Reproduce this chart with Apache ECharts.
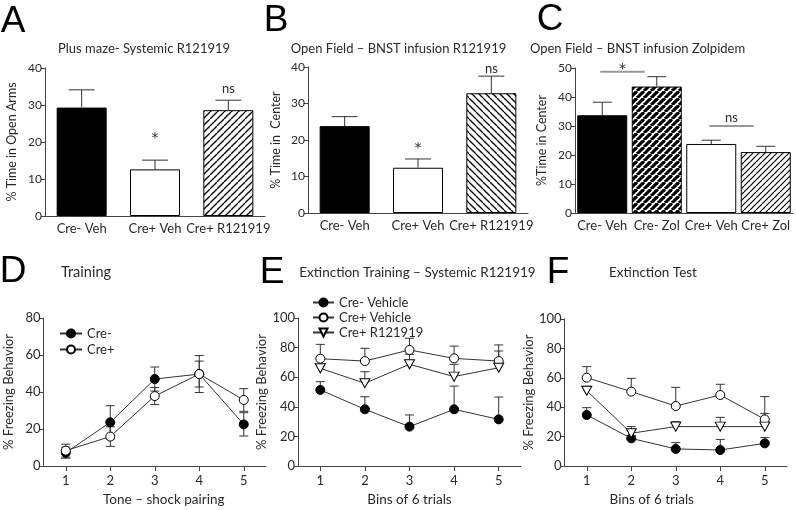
<!DOCTYPE html>
<html><head><meta charset="utf-8">
<script src="https://cdn.jsdelivr.net/npm/echarts@6/dist/echarts.min.js"></script>
<style>html,body{margin:0;padding:0;background:#fff}#c{width:796px;height:510px}</style>
</head><body><div id="c"></div>
<script>
// ---------- data ----------
const catsA = ['Cre- Veh', 'Cre+ Veh', 'Cre+ R121919'];
const valsA = [29.3, 12.6, 28.6];
const errA  = [4.8, 2.5, 2.7];
const catsB = ['Cre- Veh', 'Cre+ Veh', 'Cre+ R121919'];
const valsB = [23.8, 12.4, 32.8];
const errB  = [2.6, 2.4, 4.7];
const catsC = ['Cre- Veh', 'Cre- Zol', 'Cre+ Veh', 'Cre+ Zol'];
const valsC = [33.7, 43.6, 23.8, 21.0];
const errC  = [4.5, 3.4, 1.3, 2.0];
const sigA = [[1, 21.0, '*'], [2, 34.3, 'ns']];
const sigB = [[1, 17.8, '*'], [2, 39.6, 'ns']];
const bracketsC = [[0, 1, 48.7, 49.6, '*'], [2, 3, 30.0, 32.8, 'ns']];

const bins = [1, 2, 3, 4, 5];
// D: Training
const dCreMinus = [7.2, 23.6, 47.0, 49.7, 22.5];
const dCreMinusSem = [3.0, 9.0, 6.5, 7.0, 6.3];
const dCrePlus = [8.3, 15.9, 37.8, 49.7, 35.7];
const dCrePlusSem = [3.5, 5.3, 4.6, 10.0, 6.1];
// E: Extinction training
const eCreMinusVeh = [51.4, 38.3, 26.6, 38.3, 31.5];
const eCreMinusVehSem = [5.6, 8.5, 7.9, 15.7, 15.1];
const eCrePlusVeh = [72.5, 70.9, 78.4, 72.7, 70.9];
const eCrePlusVehSem = [9.7, 8.6, 7.9, 8.3, 10.9];
const eCrePlusR = [66.0, 55.9, 68.7, 60.4, 66.4];
const eCrePlusRSem = [7.0, 7.8, 6.8, 8.3, 11.3];
// F: Extinction test
const fCreMinusVeh = [34.7, 18.8, 11.6, 10.9, 15.4];
const fCreMinusVehSem = [5.0, 2.0, 4.3, 7.2, 3.9];
const fCrePlusVeh = [60.1, 50.6, 40.8, 48.3, 31.7];
const fCrePlusVehSem = [7.5, 9.0, 12.7, 7.3, 15.5];
const fCrePlusR = [51.2, 22.3, 26.8, 26.8, 26.8];
const fCrePlusRSem = [3.0, 4.5, 3.4, 6.3, 9.0];

// ---------- helpers ----------
const FONT = 'Lato, "Open Sans", sans-serif';
const TXT = '#2a2a2a';
const AX = '#444';

function hatch(dir, s, w) {
  const c = document.createElement('canvas');
  c.width = s; c.height = s;
  const g = c.getContext('2d');
  g.fillStyle = '#fff'; g.fillRect(0, 0, s, s);
  g.strokeStyle = '#000'; g.lineWidth = w;
  for (let k = -1; k <= 1; k++) {
    g.beginPath();
    if (dir === '/') { g.moveTo(k * s, s); g.lineTo(k * s + s, 0); }
    else { g.moveTo(k * s, 0); g.lineTo(k * s + s, s); }
    g.stroke();
  }
  return { image: c, repeat: 'repeat' };
}

function errSeries(idx, xs, means, errs, both, capW, z) {
  return {
    type: 'custom', xAxisIndex: idx, yAxisIndex: idx, z: z, silent: true,
    data: xs.map((x, i) => [x, means[i], means[i] + errs[i], both ? means[i] - errs[i] : means[i]]),
    encode: { x: 0, y: [1, 2, 3] },
    renderItem: function (params, api) {
      const hi = api.coord([api.value(0), api.value(2)]);
      const lo = api.coord([api.value(0), api.value(3)]);
      const st = { stroke: '#333', lineWidth: 1 };
      const ch = [
        { type: 'line', shape: { x1: hi[0], y1: hi[1], x2: lo[0], y2: lo[1] }, style: st },
        { type: 'line', shape: { x1: hi[0] - capW / 2, y1: hi[1], x2: hi[0] + capW / 2, y2: hi[1] }, style: st }
      ];
      if (both) ch.push({ type: 'line', shape: { x1: lo[0] - capW / 2, y1: lo[1], x2: lo[0] + capW / 2, y2: lo[1] }, style: st });
      return { type: 'group', children: ch };
    }
  };
}

function sigFont(t) { return t === '*' ? '14px "DejaVu Sans", sans-serif' : '13px ' + FONT; }

function sigSeries(idx, data) {
  return {
    type: 'custom', xAxisIndex: idx, yAxisIndex: idx, z: 5, silent: true,
    data: data, encode: { x: 0, y: 1 },
    renderItem: function (params, api) {
      const p = api.coord([api.value(0), api.value(1)]);
      const t = data[params.dataIndex][2];
      return { type: 'text', x: p[0], y: p[1],
        style: { text: t, font: sigFont(t), fill: TXT, align: 'center', verticalAlign: 'middle' } };
    }
  };
}

function bracketSeries(idx, data) {
  return {
    type: 'custom', xAxisIndex: idx, yAxisIndex: idx, z: 5, silent: true,
    data: data.map(d => [d[0], d[1], d[2], d[3]]), encode: { x: 0, y: 2 },
    renderItem: function (params, api) {
      const a = api.coord([api.value(0), api.value(2)]);
      const b = api.coord([api.value(1), api.value(2)]);
      const t = api.coord([api.value(0), api.value(3)]);
      const x1 = a[0] - 2, x2 = a[0] + 0.78 * (b[0] - a[0]);
      const s = data[params.dataIndex][4];
      return { type: 'group', children: [
        { type: 'line', shape: { x1: x1, y1: a[1], x2: x2, y2: a[1] }, style: { stroke: '#999', lineWidth: 2 } },
        { type: 'text', x: (x1 + x2) / 2, y: t[1],
          style: { text: s, font: sigFont(s), fill: TXT, align: 'center', verticalAlign: 'middle' } }
      ] };
    }
  };
}

function barCatAxis(idx, cats) {
  return { type: 'category', gridIndex: idx, data: cats,
    axisLine: { lineStyle: { color: AX, width: 1 } }, axisTick: { show: false },
    axisLabel: { interval: 0, fontSize: 13, color: TXT, margin: 6, fontFamily: FONT } };
}
function valYAxis(idx, max, interval, name, gap, nameSize, labelSize) {
  return { type: 'value', gridIndex: idx, min: 0, max: max, interval: interval,
    name: name, nameLocation: 'middle', nameGap: gap, nameRotate: 90,
    nameTextStyle: { fontSize: nameSize, color: TXT, fontFamily: FONT },
    axisLine: { show: true, lineStyle: { color: AX, width: 1 } },
    axisTick: { show: true, length: 4, lineStyle: { color: AX } },
    axisLabel: { fontSize: labelSize, color: TXT, margin: 3, fontFamily: FONT },
    splitLine: { show: false } };
}
function binXAxis(idx, name, pad) {
  return { type: 'value', gridIndex: idx, min: 0.5, max: 5.5,
    name: name, nameLocation: 'middle', nameGap: 27,
    nameTextStyle: { fontSize: 13.5, color: TXT, fontFamily: FONT, padding: pad },
    axisLine: { lineStyle: { color: AX, width: 1 } },
    axisTick: { show: true, length: 5, customValues: bins, lineStyle: { color: AX } },
    axisLabel: { customValues: bins, fontSize: 13, color: TXT, margin: 8, fontFamily: FONT },
    splitLine: { show: false } };
}

const SYM_FILLED = { symbol: 'circle', itemStyle: { color: '#000', borderColor: '#000', borderWidth: 1 } };
const SYM_OPEN = { symbol: 'circle', itemStyle: { color: '#fff', borderColor: '#000', borderWidth: 1 } };
const SYM_TRI = { symbol: 'path://M0,0L10,0L5,9Z', itemStyle: { color: '#fff', borderColor: '#000', borderWidth: 1 } };

function lineSeries(name, idx, means, sym) {
  return { type: 'line', name: name, xAxisIndex: idx, yAxisIndex: idx, z: 4,
    data: bins.map((x, i) => [x, means[i]]),
    symbol: sym.symbol, symbolSize: sym.symbol === 'circle' ? 9 : [10, 9],
    lineStyle: { color: '#333', width: 1 }, itemStyle: sym.itemStyle,
    emphasis: { disabled: true } };
}

function barSeries(idx, vals, styles) {
  return { type: 'bar', xAxisIndex: idx, yAxisIndex: idx, barWidth: 50, z: 2, silent: true,
    data: vals.map((v, i) => ({ value: v, itemStyle: Object.assign({ borderColor: '#000', borderWidth: 1 }, styles[i]) })) };
}

function txt(text, x, y, size, family, color) {
  return { type: 'text', x: x, y: y, silent: true,
    style: { text: text, font: size + 'px ' + family, fill: color || TXT, align: 'center', verticalAlign: 'middle' } };
}

const chart = echarts.init(document.getElementById('c'), null, { renderer: 'canvas' });
const LETTER = '"Liberation Sans", Arial, sans-serif';

chart.setOption({
  animation: false,
  backgroundColor: '#fff',
  textStyle: { fontFamily: FONT },
  grid: [
    { left: 45, top: 68, width: 220, height: 148 },
    { left: 308, top: 67, width: 220, height: 146 },
    { left: 575, top: 68, width: 218, height: 145 },
    { left: 43.5, top: 318, width: 222.5, height: 148 },
    { left: 298, top: 318, width: 223, height: 148 },
    { left: 564.5, top: 319, width: 222.5, height: 147 }
  ],
  xAxis: [
    barCatAxis(0, catsA), barCatAxis(1, catsB), barCatAxis(2, catsC),
    binXAxis(3, 'Tone \u2013 shock pairing', [0, 0, 0, 18]),
    binXAxis(4, 'Bins of 6 trials', 0),
    binXAxis(5, 'Bins of 6 trials', [0, 48, 0, 0])
  ],
  yAxis: [
    valYAxis(0, 40, 10, '% Time in Open Arms', 27, 12.5, 12),
    valYAxis(1, 40, 10, '% Time in  Center', 26, 12.5, 12),
    valYAxis(2, 50, 10, '%Time in Center', 27, 12.5, 12),
    valYAxis(3, 80, 20, '% Freezing Behavior', 28, 13, 13),
    valYAxis(4, 100, 20, '% Freezing Behavior', 25, 13, 13),
    valYAxis(5, 100, 20, '% Freezing Behavior', 26, 13, 13)
  ],
  legend: [
    { data: ['Cre-', 'Cre+'], orient: 'vertical', left: 54, top: 322, itemWidth: 22, itemHeight: 10, itemGap: 3,
      selectedMode: false, textStyle: { fontSize: 13, color: TXT, fontFamily: FONT } },
    { data: ['Cre- Vehicle', 'Cre+ Vehicle', 'Cre+ R121919'], orient: 'vertical', left: 307, top: 291, itemWidth: 21, itemHeight: 10, itemGap: 2,
      selectedMode: false, textStyle: { fontSize: 13, color: TXT, fontFamily: FONT } }
  ],
  series: [
    barSeries(0, valsA, [{ color: '#000' }, { color: '#fff' }, { color: hatch('/', 7, 1.3) }]),
    errSeries(0, [0, 1, 2], valsA, errA, false, 26, 3),
    sigSeries(0, sigA),
    barSeries(1, valsB, [{ color: '#000' }, { color: '#fff' }, { color: hatch('\\', 7, 1.3) }]),
    errSeries(1, [0, 1, 2], valsB, errB, false, 26, 3),
    sigSeries(1, sigB),
    barSeries(2, valsC, [{ color: '#000' }, { color: hatch('/', 7, 3.2) }, { color: '#fff' }, { color: hatch('/', 6, 1.2) }]),
    errSeries(2, [0, 1, 2, 3], valsC, errC, false, 19, 3),
    bracketSeries(2, bracketsC),

    errSeries(3, bins, dCreMinus, dCreMinusSem, true, 9, 1),
    errSeries(3, bins, dCrePlus, dCrePlusSem, true, 9, 1),
    lineSeries('Cre-', 3, dCreMinus, SYM_FILLED),
    lineSeries('Cre+', 3, dCrePlus, SYM_OPEN),

    errSeries(4, bins, eCreMinusVeh, eCreMinusVehSem, false, 9, 1),
    errSeries(4, bins, eCrePlusVeh, eCrePlusVehSem, false, 9, 1),
    errSeries(4, bins, eCrePlusR, eCrePlusRSem, false, 9, 1),
    lineSeries('Cre- Vehicle', 4, eCreMinusVeh, SYM_FILLED),
    lineSeries('Cre+ Vehicle', 4, eCrePlusVeh, SYM_OPEN),
    lineSeries('Cre+ R121919', 4, eCrePlusR, SYM_TRI),

    errSeries(5, bins, fCreMinusVeh, fCreMinusVehSem, false, 9, 1),
    errSeries(5, bins, fCrePlusVeh, fCrePlusVehSem, false, 9, 1),
    errSeries(5, bins, fCrePlusR, fCrePlusRSem, false, 9, 1),
    lineSeries('Cre- Vehicle', 5, fCreMinusVeh, SYM_FILLED),
    lineSeries('Cre+ Vehicle', 5, fCrePlusVeh, SYM_OPEN),
    lineSeries('Cre+ R121919', 5, fCrePlusR, SYM_TRI)
  ],
  graphic: [
    txt('A', 13, 22, 37, LETTER, '#000'), txt('B', 276, 20.5, 37, LETTER, '#000'), txt('C', 550, 20, 37, LETTER, '#000'),
    txt('D', 13, 272, 37, LETTER, '#000'), txt('E', 272, 273, 37, LETTER, '#000'), txt('F', 558, 272.5, 37, LETTER, '#000'),
    txt('Plus maze- Systemic R121919', 144, 49, 13, FONT),
    txt('Open Field \u2013 BNST infusion R121919', 398.5, 48.5, 13, FONT),
    txt('Open Field \u2013 BNST infusion Zolpidem', 637.5, 48.5, 13, FONT),
    txt('Training', 86, 272.5, 14.5, FONT),
    txt('Extinction Training \u2013 Systemic R121919', 417.5, 273, 13.5, FONT),
    txt('Extinction Test', 653, 273, 13.5, FONT)
  ]
});
</script>
</body></html>
